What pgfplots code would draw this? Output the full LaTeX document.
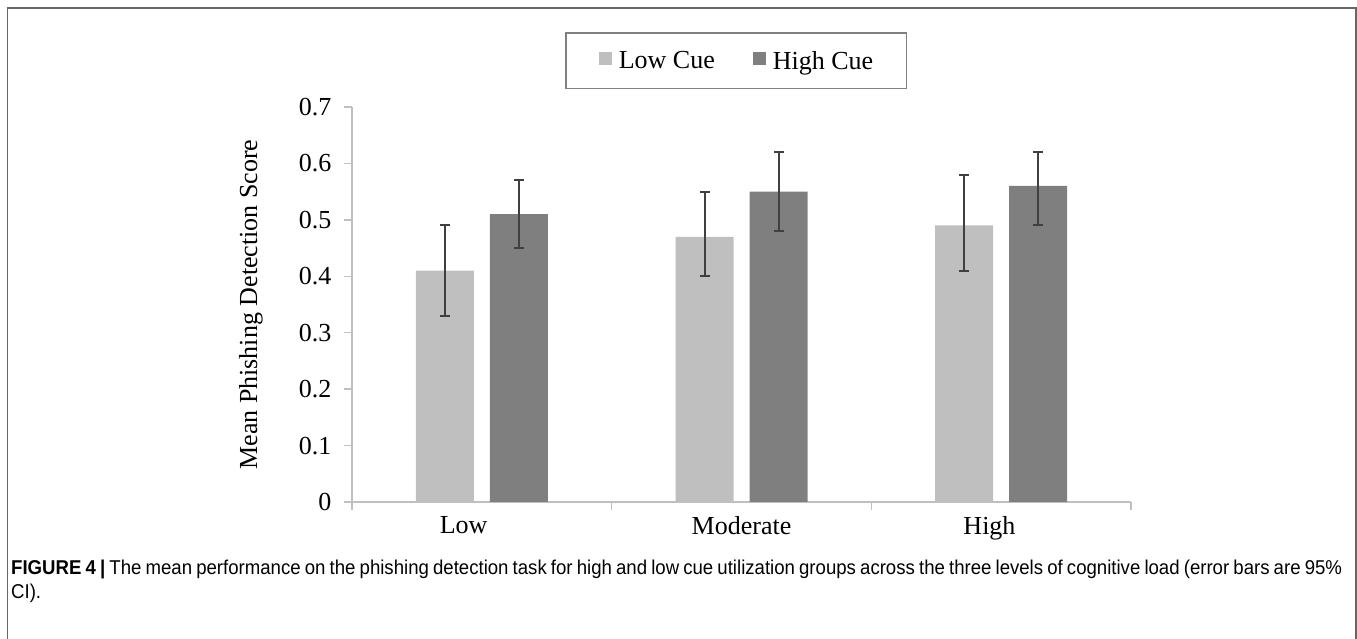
\documentclass[border=0pt]{standalone}
\usepackage{pgfplots}
\pgfplotsset{compat=1.18}
\usepackage{pgfplotstable}
\usepackage{fontspec}
\setmainfont{Liberation Serif}
\newfontfamily\capfont[FakeStretch=0.93]{Liberation Sans}
\definecolor{lightbar}{HTML}{BFBFBF}
\definecolor{darkbar}{HTML}{7F7F7F}
\definecolor{errc}{HTML}{404040}
\definecolor{axisc}{HTML}{BFBFBF}
\definecolor{framec}{HTML}{666666}
\definecolor{legc}{HTML}{808080}
\pgfplotsset{sqlegend/.style={legend image code/.code={\fill[##1] (0pt,-4pt) rectangle (13pt,9pt);}}}

\pgfplotstableread{
x y ep em
0 0.41 0.08 0.08
1 0.47 0.08 0.07
2 0.49 0.09 0.08
}\lowcue
\pgfplotstableread{
x y ep em
0 0.51 0.06 0.06
1 0.55 0.07 0.07
2 0.56 0.06 0.07
}\highcue

\begin{document}
\begin{tikzpicture}[x=1pt,y=1pt]
\useasboundingbox (0,0) rectangle (1357,639);
\draw[framec, line width=1.5pt] (7.5,-2) -- (7.5,631) -- (1356,631) -- (1356,-2);
\begin{axis}[
  at={(352pt,137pt)}, anchor=south west,
  scale only axis, width=779pt, height=395pt,
  ybar=16pt, bar width=58pt,
  xmin=-0.5, xmax=2.5, ymin=0, ymax=0.7,
  axis x line*=bottom, axis y line*=left,
  axis line style={axisc, line width=1.5pt, -},
  xtick={-0.5,0.5,1.5,2.5}, xticklabels={},
  extra x ticks={-0.07,1,1.955},
  extra x tick labels={Low,Moderate,High},
  extra x tick style={major tick length=0pt, xticklabel style={yshift=-11pt}},
  ytick={0,0.1,0.2,0.3,0.4,0.5,0.6,0.7},
  yticklabels={0,0.1,0.2,0.3,0.4,0.5,0.6,0.7},
  tick align=outside, major tick length=8pt,
  tick style={axisc, line width=1.5pt},
  tick label style={font=\fontsize{26}{30}\selectfont},
  yticklabel style={xshift=-9pt},
  every axis y label/.style={at={(axis description cs:0,0.5)}, xshift=-101pt, rotate=90, anchor=center, font=\fontsize{26}{30}\selectfont},
  ylabel={Mean Phishing Detection Score},
  legend columns=2,
  legend style={at={(axis description cs:0.493,1.1165)}, anchor=center,
    draw=legc, line width=1.5pt, inner xsep=33pt, inner ysep=18pt,
    font=\fontsize{26}{30}\selectfont,
    nodes={inner sep=0pt},
    /tikz/every odd column/.append style={column sep=7pt},
    /tikz/every even column/.append style={column sep=38pt}},
  error bars/error bar style={errc, line width=2pt},
  error bars/error mark options={errc, line width=2pt, mark size=5pt, rotate=90},
]
\addplot[fill=lightbar, draw=none, sqlegend,
  error bars/.cd, y dir=both, y explicit]
  table[x=x, y=y, y error plus=ep, y error minus=em]{\lowcue};
\addlegendentry{Low Cue}
\addplot[fill=darkbar, draw=none, sqlegend,
  error bars/.cd, y dir=both, y explicit]
  table[x=x, y=y, y error plus=ep, y error minus=em]{\highcue};
\addlegendentry{High Cue}
\end{axis}
\node[anchor=base west, inner sep=0pt] at (11,64) {\capfont\fontsize{20}{24}\selectfont\makebox[1331pt][s]{\textbf{FIGURE 4 |} The mean performance on the phishing detection task for high and low cue utilization groups across the three levels of cognitive load (error bars are 95\%}};
\node[anchor=base west, inner sep=0pt] at (11,40) {\capfont\fontsize{20}{24}\selectfont CI).};
\end{tikzpicture}
\end{document}
